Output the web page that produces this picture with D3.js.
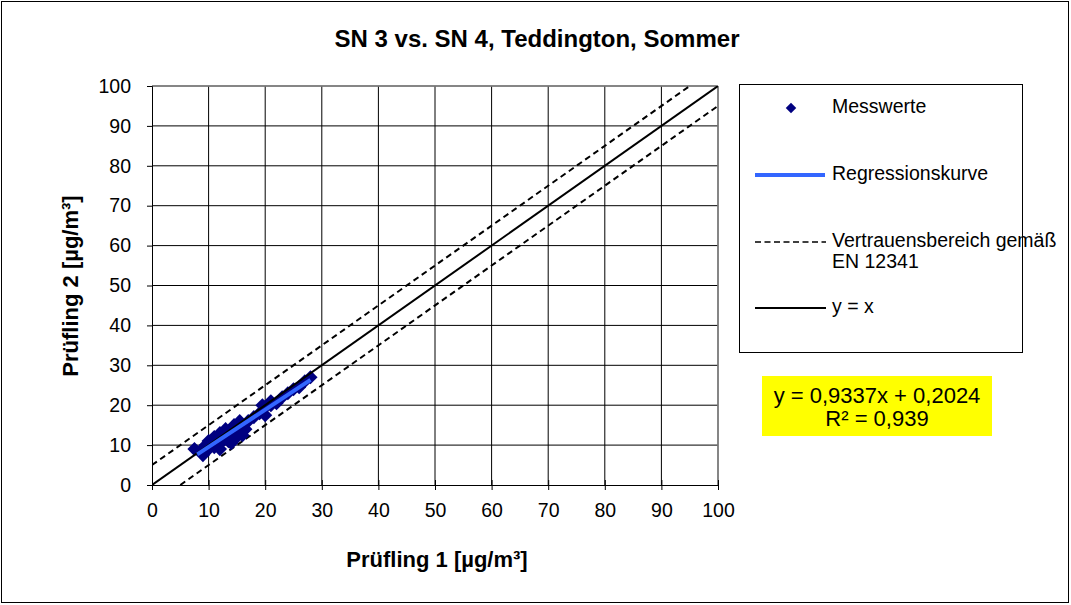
<!DOCTYPE html>
<html><head><meta charset="utf-8">
<script src="https://cdn.jsdelivr.net/npm/d3@7"></script>
<style>body{margin:0;background:#fff}svg{display:block;font-family:"Liberation Sans",Arial,sans-serif}</style>
</head><body>
<svg id="c" width="1071" height="605"></svg>
<script>
const title = "SN 3 vs. SN 4, Teddington, Sommer";
const xLabel = "Prüfling 1 [µg/m³]";
const yLabel = "Prüfling 2 [µg/m³]";
const ticks = [0,10,20,30,40,50,60,70,80,90,100];
const xVals = [7.5,8.5,9,9.5,10,10,10.5,11,11,11.5,12,12,12.5,13,13,13.5,14,14,14.5,15,15,15.5,16,16,16.5,17,18,19,19.5,20,20,21,21,22,23,24,25,26,27,28];
const yVals = [9,8.5,7.5,10,9,11,10,12,9.5,10.5,13,9,11,12,14,11,13,10.5,15,12,14,16,12.5,15,14,16,17,18,20,17.5,19.5,20,21,20.5,22,23,24,24.5,26,27];
const slope = 0.9337, intercept = 0.2024, r2 = "0,939";
const band = 5;
const regRange = [8, 28];
const legendItems = ["Messwerte","Regressionskurve","Vertrauensbereich gemäß|EN 12341","y = x"];

const svg = d3.select("#c");
svg.append("rect").attr("x",1.5).attr("y",1.5).attr("width",1067).attr("height",601).attr("fill","#fff").attr("stroke","#000");
const x = d3.scaleLinear().domain([0,100]).range([152,718]);
const y = d3.scaleLinear().domain([0,100]).range([485,86]);

svg.append("text").attr("x",537).attr("y",47).attr("text-anchor","middle").attr("font-weight","bold").attr("font-size",24).text(title);

const g = svg.append("g");
g.selectAll(".gx").data(ticks.slice(1)).join("line").attr("x1",d=>x(d)).attr("x2",d=>x(d)).attr("y1",y(0)).attr("y2",y(100)).attr("stroke","#000").attr("stroke-width",1);
g.selectAll(".gy").data(ticks.slice(1)).join("line").attr("y1",d=>y(d)).attr("y2",d=>y(d)).attr("x1",x(0)).attr("x2",x(100)).attr("stroke","#000").attr("stroke-width",1);
g.append("line").attr("x1",x(0)).attr("x2",x(100)).attr("y1",y(100)).attr("y2",y(100)).attr("stroke","#888").attr("stroke-width",1.5);
g.append("line").attr("x1",x(100)).attr("x2",x(100)).attr("y1",y(0)).attr("y2",y(100)).attr("stroke","#888").attr("stroke-width",1.5);

const ax = svg.append("g").attr("transform",`translate(0,${y(0)})`).call(d3.axisBottom(x).tickValues(ticks).tickSize(5).tickPadding(8));
const ay = svg.append("g").attr("transform",`translate(${x(0)},0)`).call(d3.axisLeft(y).tickValues(ticks).tickSize(5).tickPadding(4));
[ax,ay].forEach(a=>{a.selectAll("text").attr("font-size",19.5).attr("font-family","Liberation Sans, Arial, sans-serif").attr("fill","#000");a.selectAll("line,path").attr("stroke","#000");});
ax.selectAll(".tick line").attr("transform","translate(0,-5)").attr("y2",10);
ax.selectAll("text").attr("y",32).attr("dy",0);
ay.selectAll("text").attr("x",-21);

svg.append("text").attr("x",437).attr("y",567).attr("text-anchor","middle").attr("font-weight","bold").attr("font-size",22).text(xLabel);
svg.append("text").attr("transform",`translate(78,286) rotate(-90)`).attr("text-anchor","middle").attr("font-weight","bold").attr("font-size",22).text(yLabel);

svg.append("clipPath").attr("id","pc").append("rect").attr("x",x(0)).attr("y",y(100)).attr("width",x(100)-x(0)).attr("height",y(0)-y(100));
const pg = svg.append("g").attr("clip-path","url(#pc)");
pg.append("line").attr("x1",x(0)).attr("y1",y(band)).attr("x2",x(100-band)).attr("y2",y(100)).attr("stroke","#000").attr("stroke-width",2).attr("stroke-dasharray","6,4");
pg.append("line").attr("x1",x(band)).attr("y1",y(0)).attr("x2",x(100)).attr("y2",y(100-band)).attr("stroke","#000").attr("stroke-width",2).attr("stroke-dasharray","6,4");
const diamond = d3.symbol().type(d3.symbolSquare).size(100);
pg.selectAll(".pt").data(xVals.map((v,i)=>[v,yVals[i]])).join("path").attr("d",diamond).attr("transform",d=>`translate(${x(d[0])},${y(d[1])}) rotate(45)`).attr("fill","#000080");
pg.append("line").attr("x1",x(0)).attr("y1",y(0)).attr("x2",x(100)).attr("y2",y(100)).attr("stroke","#000").attr("stroke-width",2);
pg.append("line").attr("x1",x(regRange[0])).attr("y1",y(slope*regRange[0]+intercept)).attr("x2",x(regRange[1])).attr("y2",y(slope*regRange[1]+intercept)).attr("stroke","#3366FF").attr("stroke-width",4);

// legend
svg.append("rect").attr("x",739.5).attr("y",84.5).attr("width",283).attr("height",268).attr("fill","#fff").attr("stroke","#000");
const lineY = [108,175,242,308];
const baseY = [113,180,247,313];
svg.append("path").attr("d",d3.symbol().type(d3.symbolSquare).size(55)).attr("transform",`translate(791,${lineY[0]}) rotate(45)`).attr("fill","#000080");
svg.append("line").attr("x1",755).attr("x2",825).attr("y1",lineY[1]).attr("y2",lineY[1]).attr("stroke","#3366FF").attr("stroke-width",4);
svg.append("line").attr("x1",755).attr("x2",826).attr("y1",lineY[2]).attr("y2",lineY[2]).attr("stroke","#000").attr("stroke-width",1.5).attr("stroke-dasharray","6,3.5");
svg.append("line").attr("x1",755).attr("x2",826).attr("y1",lineY[3]).attr("y2",lineY[3]).attr("stroke","#000").attr("stroke-width",2);
legendItems.forEach((t,i)=>{
  const tx = svg.append("text").attr("y",baseY[i]).attr("font-size",19.5);
  t.split("|").forEach((s,j)=>tx.append("tspan").attr("x",832).attr("dy",j?21:0).text(s));
});

svg.append("rect").attr("x",762).attr("y",376).attr("width",230).attr("height",60).attr("fill","#ffff00");
svg.append("text").attr("x",877).attr("y",403).attr("text-anchor","middle").attr("font-size",22).text(`y = ${slope.toString().replace(".",",")}x + ${intercept.toString().replace(".",",")}`);
svg.append("text").attr("x",877).attr("y",426).attr("text-anchor","middle").attr("font-size",22).text(`R² = ${r2}`);
</script>
</body></html>
